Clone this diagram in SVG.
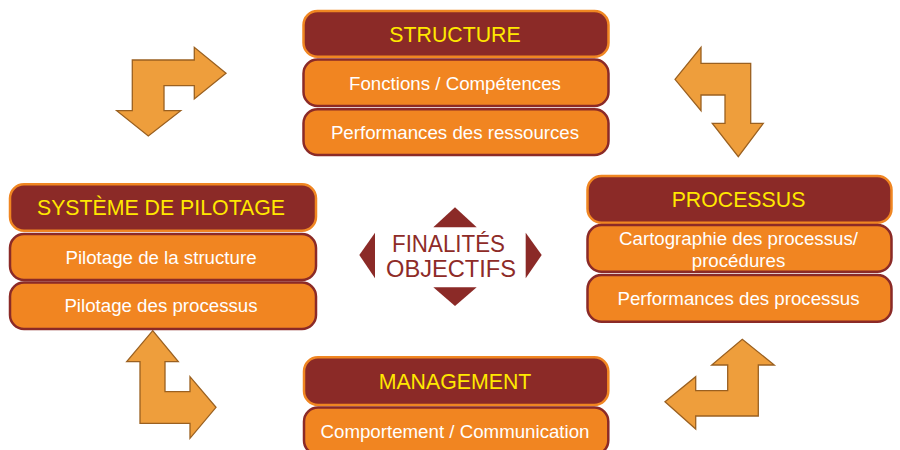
<svg xmlns="http://www.w3.org/2000/svg" width="900" height="450" viewBox="0 0 900 450">
<style>
.hd{fill:#8B2A27;stroke:#F08622;stroke-width:2.5}
.it{fill:#F18521;stroke:#8B2A27;stroke-width:2.5}
.ht{font-family:"Liberation Sans",Arial,sans-serif;font-size:21.3px;fill:#FFE800;text-anchor:middle}
.tt{font-family:"Liberation Sans",Arial,sans-serif;font-size:18.7px;fill:#FFFFFF;text-anchor:middle}
.ar{fill:#EE9E3C;stroke:#9A6020;stroke-width:1.3;stroke-linejoin:miter}
.ct{fill:#8B2A27}
.cx{font-family:"Liberation Sans",Arial,sans-serif;font-size:24px;fill:#8E2B27;text-anchor:middle}
</style>
<rect width="900" height="450" fill="#FFFFFF"/>
<g id="connectors">
<polygon class="ar" points="132.3,60 194.3,60 194.3,47.3 226,73.3 194.3,99 194.3,85.7 164,85.7 164,110.7 180.7,110.7 148.3,136 116.7,110.7 132.3,110.7"/>
<polygon class="ar" points="675,79.3 701,47.3 701,63.3 750.7,63.3 750.7,123.3 763.3,123.3 738.3,156.7 712.3,123.3 725,123.3 725,95 701,95 701,110.7"/>
<polygon class="ar" points="152.7,330.7 178.3,361.7 165,361.7 165,391.7 190,391.7 190,376.7 216,407.3 190,438.3 190,423.3 140,423.3 140,361.7 126.7,361.7"/>
<polygon class="ar" points="665,401.7 695.7,376.7 695.7,390.7 727.7,390.7 727.7,365 711.7,365 742.3,339.3 774.3,365 758.3,365 758.3,416 695.7,416 695.7,429"/>
</g>
<g id="structure">
<g id="structure-header"><rect class="hd" x="303.5" y="11" width="305" height="45.7" rx="14"/><text class="ht" x="455" y="41.5">STRUCTURE</text></g>
<g id="structure-fonctions"><rect class="it" x="303.5" y="59.5" width="305" height="46.5" rx="14"/><text class="tt" x="455" y="89.5">Fonctions / Compétences</text></g>
<g id="structure-performances"><rect class="it" x="303.5" y="109.3" width="305" height="45.7" rx="14"/><text class="tt" x="455" y="138.8">Performances des ressources</text></g>
</g>
<g id="pilotage">
<g id="pilotage-header"><rect class="hd" x="10" y="184.3" width="306" height="46.4" rx="14"/><text class="ht" x="161" y="215">SYSTÈME DE PILOTAGE</text></g>
<g id="pilotage-structure"><rect class="it" x="10" y="234" width="306" height="46" rx="14"/><text class="tt" x="161" y="263.6">Pilotage de la structure</text></g>
<g id="pilotage-processus"><rect class="it" x="10" y="282.5" width="306" height="46.5" rx="14"/><text class="tt" x="161" y="312.4">Pilotage des processus</text></g>
</g>
<g id="processus">
<g id="processus-header"><rect class="hd" x="587.5" y="176" width="304" height="46.7" rx="14"/><text class="ht" x="738.5" y="206.8">PROCESSUS</text></g>
<g id="processus-cartographie"><rect class="it" x="587.5" y="225" width="304" height="46.7" rx="14"/><text class="tt" x="738.5" y="245">Cartographie des processus/</text><text class="tt" x="738.5" y="266.5">procédures</text></g>
<g id="processus-performances"><rect class="it" x="587.5" y="275" width="304" height="46.7" rx="14"/><text class="tt" x="738.5" y="305">Performances des processus</text></g>
</g>
<g id="management">
<g id="management-header"><rect class="hd" x="304" y="357.3" width="304.3" height="47.7" rx="14"/><text class="ht" x="455" y="388.8">MANAGEMENT</text></g>
<g id="management-comportement"><rect class="it" x="304" y="407.5" width="304.3" height="47" rx="14"/><text class="tt" x="455" y="437.5">Comportement / Communication</text></g>
</g>
<g id="finalites">
<polygon class="ct" points="455,207.3 476.7,227.3 433.3,227.3"/>
<polygon class="ct" points="433.3,287.3 476.7,287.3 455,306"/>
<polygon class="ct" points="359.3,255 375,232.7 375,278.3"/>
<polygon class="ct" points="541.7,255 525.7,232.7 525.7,278.3"/>
<text class="cx" x="448.5" y="251.7" textLength="113" lengthAdjust="spacingAndGlyphs">FINALITÉS</text>
<text class="cx" x="451" y="277.3" textLength="130" lengthAdjust="spacingAndGlyphs">OBJECTIFS</text>
</g>
</svg>
